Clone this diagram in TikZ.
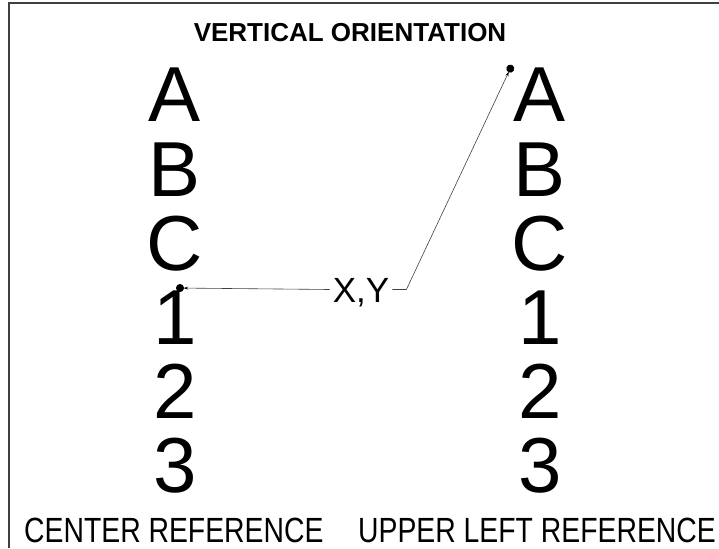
\documentclass[tikz,border=0pt]{standalone}
\usepackage{fontspec}
\setmainfont{Liberation Sans}
\usetikzlibrary{arrows.meta, positioning}

\begin{document}
\begin{tikzpicture}[
    x=1pt, y=-1pt,
    glyph/.style={font=\fontsize{78}{78}\selectfont, inner sep=0pt, text height=55pt, text depth=0pt, anchor=base},
    caption/.style={font=\fontsize{35}{35}\selectfont, inner sep=0pt, anchor=base west},
    frameline/.style={line width=1.5pt, black!75},
    leader/.style={line width=0.6pt, black!75, -{Stealth[length=4pt, width=3pt, black] Circle[length=8pt, sep=0pt, black]}}
]
\useasboundingbox (0,0) rectangle (719,548);

% === Frame ===
\draw[frameline] (719,3) -- (9,3) -- (9,548);

% === Title ===
\node[font=\fontsize{26}{26}\bfseries\selectfont, inner sep=0pt, anchor=base] (title) at (350,42) {VERTICAL ORIENTATION};

% === Letter columns ===
\foreach \ch [count=\i] in {A,B,C,1,2,3} {
    \node[glyph] (c\i) at (175,{122+74*(\i-1)}) {\ch};
    \node[glyph] (u\i) at (540,{122+74*(\i-1)}) {\ch};
}

% === Captions ===
\node[caption] (ccap) at (24,542) {\scalebox{0.81}[1]{CENTER REFERENCE}};
\node[caption] (ucap) at (358,542) {\scalebox{0.81}[1]{UPPER LEFT REFERENCE}};

% === Reference points ===
\coordinate (cref) at (176,288);
\coordinate (uref) at (512,65);
\node[font=\fontsize{35}{35}\selectfont, inner xsep=3pt, inner ysep=0pt, text height=25pt, text depth=0pt, anchor=base] (xy) at (361,302) {X,Y};

\draw[leader] (xy.west) -- (cref);
\draw[leader] (xy.east) -- ++(14,0) -- (uref);

\end{tikzpicture}
\end{document}
